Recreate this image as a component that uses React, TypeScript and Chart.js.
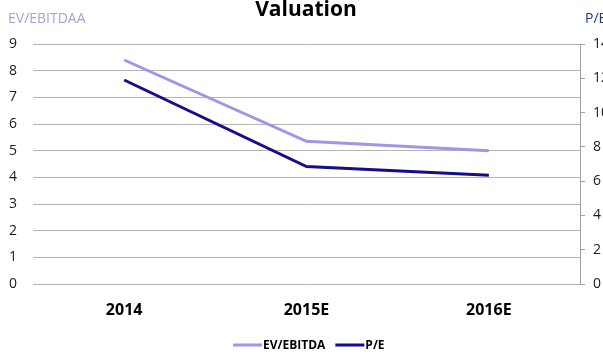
import React, { useEffect, useRef } from 'react';
import { Chart, registerables } from 'chart.js';

Chart.register(...registerables);

const categories = ['2014', '2015E', '2016E'];
const evEbitdaValues = [8.4, 5.35, 5.0];
const peValues = [11.9, 6.85, 6.35];
const seriesNames = ['EV/EBITDA', 'P/E'];
const chartTitle = 'Valuation';
const leftAxisTitle = 'EV/EBITDAA';
const rightAxisTitle = 'P/E';
const leftAxisRange = [0, 9, 1];
const rightAxisRange = [0, 14, 2];

const EV_COLOR = '#a096e6';
const PE_COLOR = '#150d8c';
const FONT = "'Open Sans', sans-serif";

const overlayPlugin = {
  id: 'overlay',
  afterDraw(chart: any) {
    const ctx = chart.ctx;
    ctx.save();
    // title
    ctx.fillStyle = '#000';
    ctx.font = `bold 21px ${FONT}`;
    ctx.textAlign = 'center';
    ctx.textBaseline = 'alphabetic';
    ctx.fillText(chartTitle, 306, 16);
    // axis titles
    ctx.font = `14px ${FONT}`;
    ctx.textAlign = 'left';
    ctx.fillStyle = '#a99fd3';
    ctx.fillText(leftAxisTitle, 8, 23);
    ctx.fillStyle = '#203a7a';
    ctx.fillText(rightAxisTitle, 585, 23);
    // legend
    const items = chart.data.datasets.map((d: any) => ({ label: d.label, color: d.borderColor }));
    let x = 233;
    const y = 345;
    ctx.font = `bold 12px ${FONT}`;
    items.forEach((it: any) => {
      ctx.strokeStyle = it.color;
      ctx.lineWidth = 3;
      ctx.beginPath();
      ctx.moveTo(x, y);
      ctx.lineTo(x + 29, y);
      ctx.stroke();
      ctx.fillStyle = '#000';
      ctx.textBaseline = 'middle';
      ctx.fillText(it.label, x + 30, y + 0.5);
      x += 30 + ctx.measureText(it.label).width + 10;
    });
    ctx.restore();
  },
};

export default function App() {
  const ref = useRef<HTMLCanvasElement>(null);
  useEffect(() => {
    if (!ref.current) return;
    const chart = new Chart(ref.current, {
      type: 'line',
      data: {
        labels: categories,
        datasets: [
          {
            label: seriesNames[0],
            data: evEbitdaValues,
            borderColor: EV_COLOR,
            backgroundColor: EV_COLOR,
            borderWidth: 3,
            pointRadius: 0,
            tension: 0,
            yAxisID: 'y',
          },
          {
            label: seriesNames[1],
            data: peValues,
            borderColor: PE_COLOR,
            backgroundColor: PE_COLOR,
            borderWidth: 3,
            pointRadius: 0,
            tension: 0,
            yAxisID: 'y1',
          },
        ],
      },
      options: {
        responsive: false,
        animation: false,
        devicePixelRatio: 1,
        layout: { padding: { top: 44, bottom: 32, left: 0, right: 0 } },
        plugins: {
          legend: { display: false },
          title: { display: false },
          tooltip: { enabled: false },
        },
        scales: {
          x: {
            offset: true,
            grid: { display: false, drawTicks: false },
            border: { display: false },
            ticks: {
              color: '#000',
              font: { family: FONT, size: 16, weight: 'bold' },
              padding: 17,
              maxRotation: 0,
            },
            afterFit(scale: any) {
              scale.height = 40;
            },
          },
          y: {
            position: 'left',
            min: leftAxisRange[0],
            max: leftAxisRange[1],
            grid: { color: '#b4b4b4', lineWidth: 1, drawTicks: false },
            border: { display: false },
            ticks: {
              stepSize: leftAxisRange[2],
              color: '#1a1a1a',
              font: { family: FONT, size: 14 },
              padding: 16,
            },
            afterFit(scale: any) {
              scale.width = 33;
            },
          },
          y1: {
            position: 'right',
            min: rightAxisRange[0],
            max: rightAxisRange[1],
            grid: { drawOnChartArea: false, drawTicks: true, tickLength: 5, color: '#a0a0a0' },
            border: { display: true, color: '#a0a0a0' },
            ticks: {
              stepSize: rightAxisRange[2],
              color: '#1a1a1a',
              font: { family: FONT, size: 14 },
              padding: 8,
              align: 'center',
            },
            afterFit(scale: any) {
              scale.width = 23;
            },
          },
        },
      },
      plugins: [overlayPlugin],
    });
    return () => chart.destroy();
  }, []);
  return (
    <div style={{ position: 'fixed', left: 0, top: 0, width: 603, height: 356, background: '#fff' }}>
      <canvas ref={ref} width={603} height={356} style={{ display: 'block' }} />
    </div>
  );
}
